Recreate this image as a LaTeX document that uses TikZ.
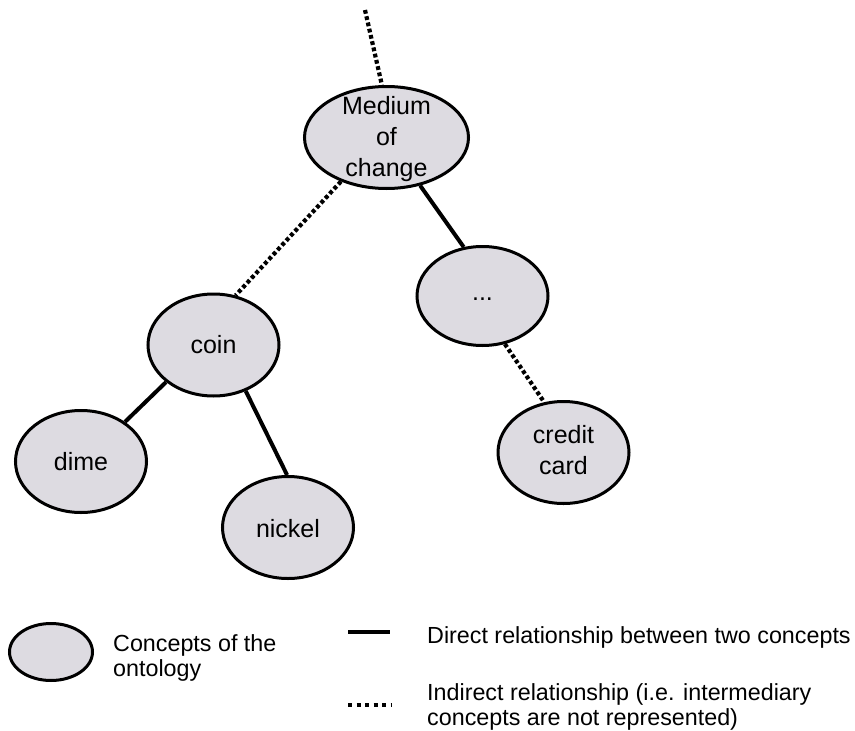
\documentclass[tikz,border=0pt]{standalone}
\usepackage{fontspec}
\setmainfont{Liberation Sans}
\usetikzlibrary{shapes.geometric}
\definecolor{conceptfill}{RGB}{221,219,225}
\begin{document}
\begin{tikzpicture}[x=1pt,y=-1pt,
  concept/.style={ellipse,draw=black,line width=3pt,fill=conceptfill,inner sep=0pt,
    minimum width=131pt,minimum height=102pt},
  lbl/.style={inner sep=0pt,font=\fontsize{25}{31}\selectfont,align=center,text=black},
  legendtext/.style={inner sep=0pt,font=\fontsize{23.3}{25.5}\selectfont,align=left,text=black},
  direct/.style={line width=4pt},
  indirect/.style={line width=4.2pt,dash pattern=on 3.8pt off 2.6pt},
]
\useasboundingbox (0,0) rectangle (855,731);

% concept nodes
\node[concept,minimum width=164pt,minimum height=102pt] (med) at (386.5,137.5) {};
\node[concept,minimum height=99pt] (dots) at (482.5,296) {};
\node[concept] (credit) at (563.5,452.5) {};
\node[concept] (coin) at (213.5,345) {};
\node[concept] (dime) at (81,461.5) {};
\node[concept] (nickel) at (288,527.5) {};

% concept labels
\node[lbl] (medtext) at ([yshift=-2pt]med.center) {Medium\\of\\change};
\node[lbl,anchor=base] (dotstext) at ([yshift=-4pt]dots.center) {...};
\node[lbl] (credittext) at ([yshift=2pt]credit.center) {credit\\card};
\node[lbl,anchor=base] (cointext) at ([yshift=-8pt]coin.center) {coin};
\node[lbl,anchor=base] (dimetext) at ([yshift=-8.5pt]dime.center) {dime};
\node[lbl,anchor=base] (nickeltext) at ([yshift=-9.5pt]nickel.center) {nickel};

% relationships
\coordinate (above) at (365,10);
\draw[indirect] (above) -- (med.95);
\draw[indirect] (med.224) -- (coin.66);
\draw[direct] (med.305) -- (dots.111);
\draw[indirect] (dots.295) -- (credit.111);
\draw[direct] (coin.218) -- (dime.42);
\draw[direct] (coin.305) -- (nickel.91);

% legend
\node[concept,minimum width=83pt,minimum height=57pt] (legconcept) at (51,652) {};
\node[legendtext,anchor=north west] (legconcepttext) at (113,634) {Concepts of the\\ontology};
\coordinate (ldA) at (348,632);
\coordinate (ldB) at (390,632);
\draw[direct,line width=4.5pt] (ldA) -- (ldB);
\node[legendtext,anchor=base west] (legdirect) at (427,643) {Direct relationship between two concepts};
\coordinate (liA) at (348,705);
\coordinate (liB) at (392,705);
\draw[line width=4.2pt,dash pattern=on 4.2pt off 4.3pt] (liA) -- (liB);
\node[legendtext,anchor=north west] (legindirect) at (427,683) {Indirect relationship (i.e. intermediary\\concepts are not represented)};
\end{tikzpicture}
\end{document}
